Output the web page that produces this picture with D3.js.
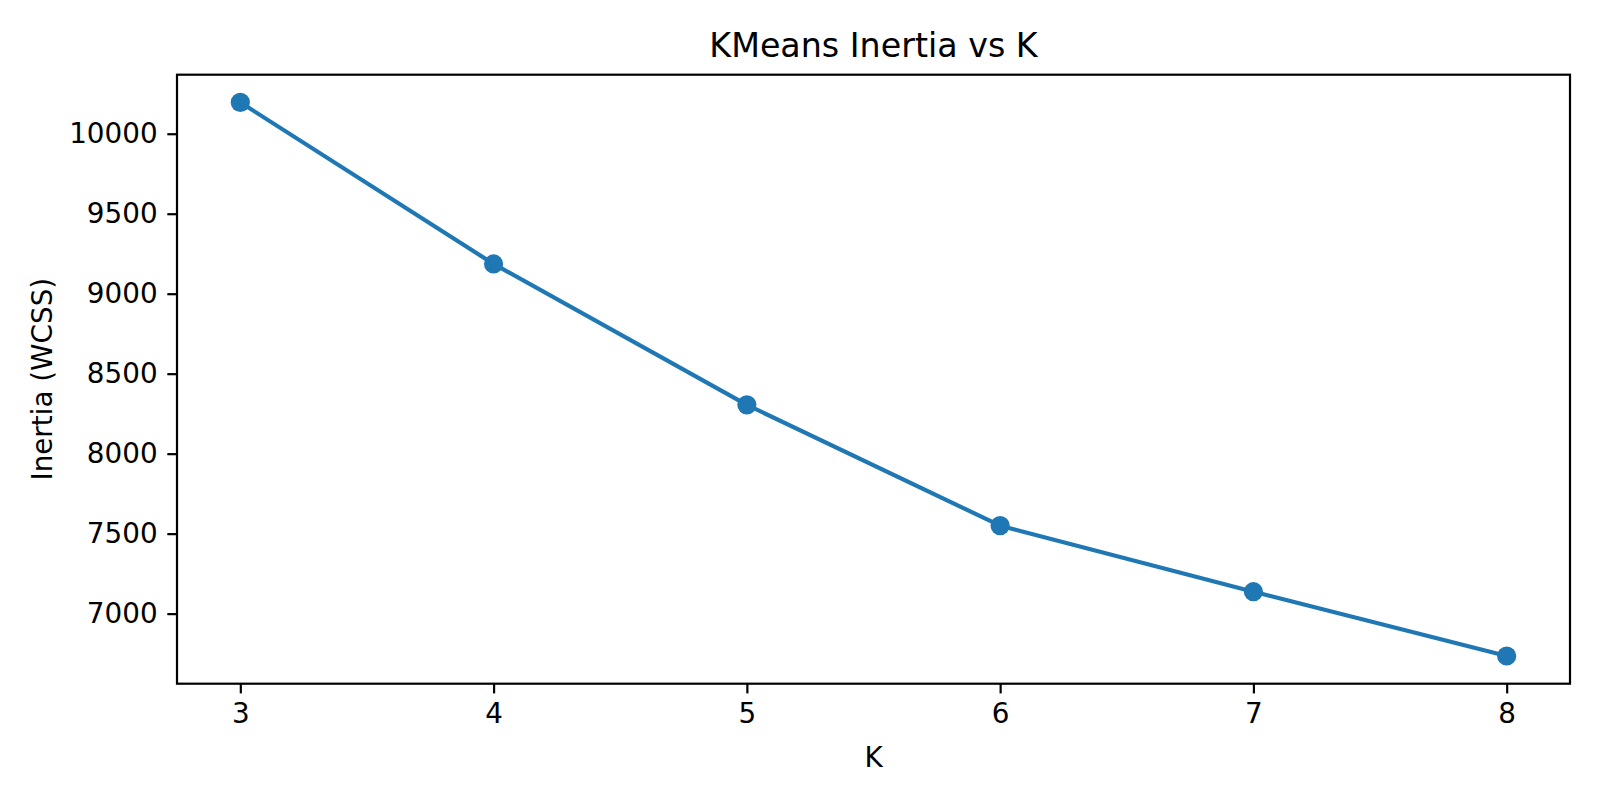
<!DOCTYPE html>
<html>
<head>
<meta charset="utf-8">
<script src="https://cdn.jsdelivr.net/npm/d3@7"></script>
<style>
  body { margin: 0; background: #fff; }
  svg { display: block; font-family: "DejaVu Sans", sans-serif; }
  .axis path, .axis line { stroke: #000; stroke-width: 2.2px; }
  .axis text { font-size: 27.8px; fill: #000; font-family: "DejaVu Sans", sans-serif; }
</style>
</head>
<body>
<svg id="chart"></svg>
<script>
// data
let kValues = [3, 4, 5, 6, 7, 8];
let inertia = [10196, 9186, 8305, 7550, 7137, 6735];
let xTicks = [3, 4, 5, 6, 7, 8];
let yTicks = [7000, 7500, 8000, 8500, 9000, 9500, 10000];

let width = 1600;
let height = 800;
let margin = {left: 177, right: 30, top: 74.7, bottom: 116.3};

const svg = d3.select("#chart")
  .attr("width", width)
  .attr("height", height);

// matplotlib style 5% padding on both axes
const xExt = d3.extent(kValues);
const xPad = (xExt[1] - xExt[0]) * 0.05;
const yExt = d3.extent(inertia);
const yPad = (yExt[1] - yExt[0]) * 0.05;

const x = d3.scaleLinear()
  .domain([xExt[0] - xPad, xExt[1] + xPad])
  .range([margin.left, width - margin.right]);

const y = d3.scaleLinear()
  .domain([yExt[0] - yPad, yExt[1] + yPad])
  .range([height - margin.bottom, margin.top]);

const tickLen = 9.7;

svg.append("g")
  .attr("class", "axis")
  .attr("transform", `translate(0,${height - margin.bottom})`)
  .call(d3.axisBottom(x).tickValues(xTicks).tickSize(tickLen).tickPadding(tickLen).tickFormat(d3.format("d")))
  .call(g => g.select(".domain").remove());

svg.append("g")
  .attr("class", "axis")
  .attr("transform", `translate(${margin.left},0)`)
  .call(d3.axisLeft(y).tickValues(yTicks).tickSize(tickLen).tickPadding(tickLen).tickFormat(d3.format("d")))
  .call(g => g.select(".domain").remove());

// frame
svg.append("rect")
  .attr("x", margin.left)
  .attr("y", margin.top)
  .attr("width", width - margin.left - margin.right)
  .attr("height", height - margin.top - margin.bottom)
  .attr("fill", "none")
  .attr("stroke", "#000")
  .attr("stroke-width", 2.2);

const pts = kValues.map((k, i) => [k, inertia[i]]);

const line = d3.line()
  .x(d => x(d[0]))
  .y(d => y(d[1]));

svg.append("path")
  .datum(pts)
  .attr("d", line)
  .attr("fill", "none")
  .attr("stroke", "#1f77b4")
  .attr("stroke-width", 4.17)
  .attr("stroke-linejoin", "round")
  .attr("stroke-linecap", "square");

svg.selectAll("circle.pt")
  .data(pts)
  .enter()
  .append("circle")
  .attr("class", "pt")
  .attr("cx", d => x(d[0]))
  .attr("cy", d => y(d[1]))
  .attr("r", 9.6)
  .attr("fill", "#1f77b4");

const plotMidX = (margin.left + width - margin.right) / 2;
const plotMidY = (margin.top + height - margin.bottom) / 2;

svg.append("text")
  .attr("x", plotMidX)
  .attr("y", 57.3)
  .attr("text-anchor", "middle")
  .style("font-size", "33.3px")
  .text("KMeans Inertia vs K");

svg.append("text")
  .attr("x", plotMidX)
  .attr("y", 767)
  .attr("text-anchor", "middle")
  .style("font-size", "27.8px")
  .text("K");

svg.append("text")
  .attr("transform", `translate(51.7,${plotMidY}) rotate(-90)`)
  .attr("text-anchor", "middle")
  .style("font-size", "27.8px")
  .text("Inertia (WCSS)");
</script>
</body>
</html>
